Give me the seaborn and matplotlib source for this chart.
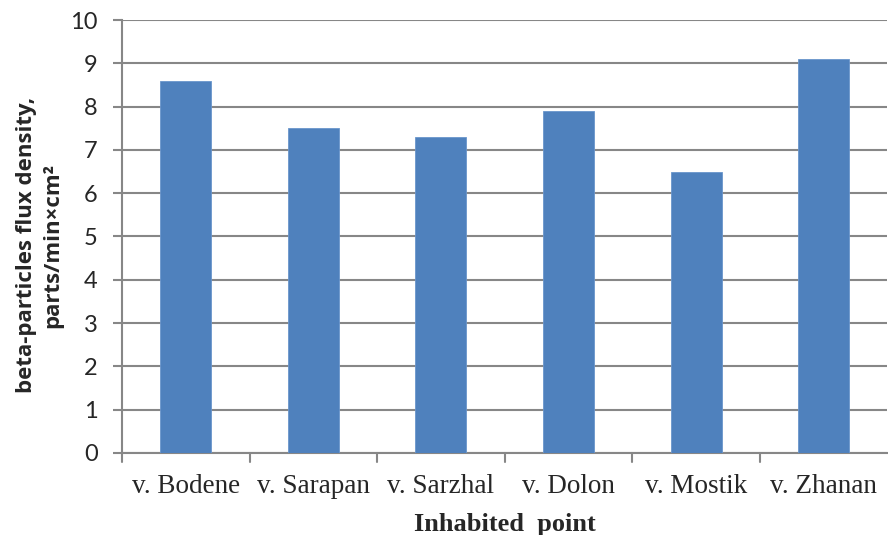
import matplotlib
matplotlib.use("Agg")
import matplotlib.pyplot as plt
import seaborn as sns
import pandas as pd

categories = ["v. Bodene", "v. Sarapan", "v. Sarzhal", "v. Dolon", "v. Mostik", "v. Zhanan"]
values = [8.6, 7.5, 7.3, 7.9, 6.5, 9.1]
yticks = [0, 1, 2, 3, 4, 5, 6, 7, 8, 9, 10]

df = pd.DataFrame({"cat": categories, "val": values})

sns.set_style("white")
fig = plt.figure(figsize=(8.88, 5.35), dpi=100)
ax = fig.add_axes([0.1374, 0.1533, 0.862, 0.8093])

sns.barplot(data=df, x="cat", y="val", color="#4F81BD", width=0.4, saturation=1,
            edgecolor="#6A96CC", linewidth=0.6, ax=ax, zorder=3)

ax.set_ylim(0, 10)
ax.set_xlim(-0.5, 5.5)
ax.set_yticks(yticks)
ax.set_yticklabels([str(t) for t in yticks], fontsize=17, family="Lato")
ax.yaxis.grid(True, color="#878787", linewidth=1.5, zorder=0)
ax.set_axisbelow(True)

for s in ["top", "right"]:
    ax.spines[s].set_visible(False)
for s in ["left", "bottom"]:
    ax.spines[s].set_color("#878787")
    ax.spines[s].set_linewidth(1.5)

ax.tick_params(axis="y", length=6.5, width=1.5, color="#878787", pad=11, left=True)
ax.set_xticks(range(len(categories)))
ax.set_xticklabels(categories, fontsize=19.5, family="Liberation Serif")
ax.tick_params(axis="x", length=0, pad=15)
# boundary tick marks between categories
for b in [0.5, 1.5, 2.5, 3.5, 4.5, -0.5]:
    ax.plot([b, b], [0, -0.2], color="#878787", linewidth=1.5, clip_on=False,
            transform=ax.transData)

ax.set_xlabel("Inhabited  point", fontsize=19, fontweight="bold", family="Liberation Serif", labelpad=10)
ax.set_ylabel("beta-particles flux density,\nparts/min×cm²", fontsize=16, fontweight="bold",
              family="Open Sans", linespacing=1.3)
ax.yaxis.set_label_coords(-0.077, 0.48)

fig.savefig("out.png", dpi=100)
